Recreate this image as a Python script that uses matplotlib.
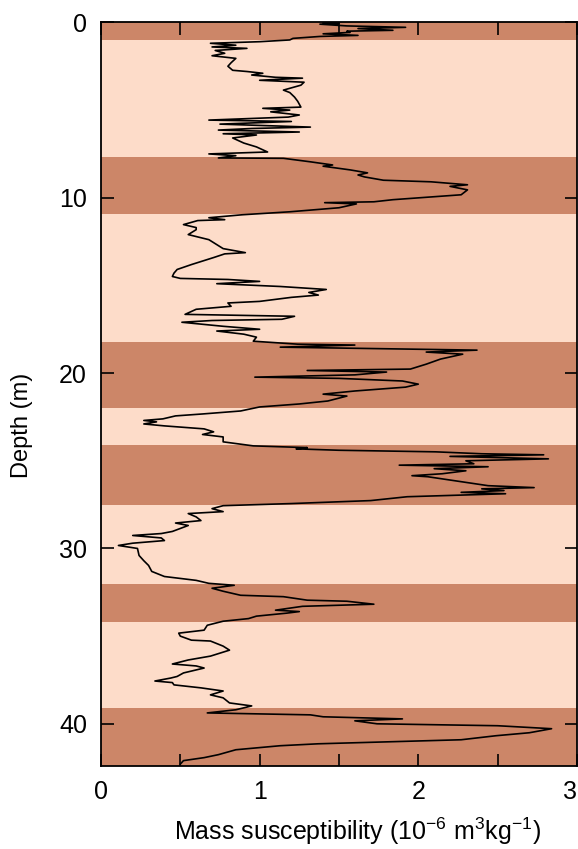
import matplotlib
matplotlib.use("Agg")
import matplotlib.pyplot as plt

plt.rcParams['font.family'] = ['Liberation Sans', 'DejaVu Sans']
plt.rcParams['mathtext.fontset'] = 'custom'
plt.rcParams['mathtext.rm'] = 'Liberation Sans'

# susceptibility profile
depth = [0.0, 0.06, 0.1, 0.2, 0.28, 0.35, 0.45, 0.5, 0.57, 0.65, 0.74, 0.8, 0.91, 1.0,
         1.1, 1.19, 1.3, 1.4, 1.48, 1.6, 1.76, 1.9, 2.05, 2.3, 2.5, 2.73, 2.8, 2.9, 3.0,
         3.13, 3.18, 3.3, 3.41, 3.58, 3.86, 4.0, 4.26, 4.5, 4.83, 4.9, 5.0, 5.1, 5.28,
         5.4, 5.57, 5.65, 5.8, 5.97, 6.05, 6.14, 6.25, 6.35, 6.42, 6.59, 6.88, 7.1, 7.39,
         7.5, 7.6, 7.73, 7.75, 7.95, 8.13, 8.2, 8.41, 8.58, 8.7, 8.81, 9.0, 9.09, 9.26,
         9.35, 9.55, 9.83, 10.0, 10.11, 10.23, 10.28, 10.35, 10.57, 10.8, 10.97, 11.14,
         11.25, 11.3, 11.53, 11.7, 11.82, 12.1, 12.39, 12.67, 12.9, 13.13, 13.2, 13.41,
         13.81, 14.09, 14.3, 14.49, 14.6, 14.66, 14.77, 14.9, 15.06, 15.23, 15.4, 15.55,
         15.68, 15.91, 16.0, 16.19, 16.36, 16.65, 16.76, 16.93, 17.0, 17.1, 17.33, 17.5,
         17.6, 17.78, 17.95, 18.18, 18.35, 18.4, 18.52, 18.69, 18.8, 18.92, 19.2, 19.49,
         19.77, 19.85, 19.94, 20.1, 20.23, 20.3, 20.45, 20.63, 20.8, 21.02, 21.2, 21.31,
         21.59, 21.76, 21.93, 22.16, 22.33, 22.44, 22.61, 22.7, 22.78, 22.9, 23.01, 23.18,
         23.35, 23.5, 23.64, 23.92, 24.15, 24.25, 24.32, 24.4, 24.49, 24.6, 24.66, 24.75,
         24.89, 25.0, 25.17, 25.25, 25.34, 25.45, 25.57, 25.74, 25.85, 25.91, 26.19, 26.42,
         26.53, 26.6, 26.7, 26.8, 26.88, 27.05, 27.27, 27.44, 27.56, 27.73, 27.9, 28.01,
         28.2, 28.41, 28.55, 28.69, 29.03, 29.15, 29.26, 29.4, 29.55, 29.7, 29.83, 30.0,
         30.4, 30.7, 30.97, 31.31, 31.6, 31.82, 31.99, 32.1, 32.27, 32.44, 32.67, 32.75,
         32.95, 33.01, 33.18, 33.3, 33.52, 33.6, 33.69, 33.86, 34.0, 34.15, 34.38, 34.66,
         34.83, 35.0, 35.23, 35.28, 35.57, 35.8, 36.14, 36.36, 36.59, 36.7, 36.82, 37.1,
         37.3, 37.39, 37.56, 37.65, 37.78, 37.95, 38.13, 38.35, 38.52, 38.81, 38.98, 39.2,
         39.38, 39.49, 39.6, 39.72, 39.83, 40.0, 40.11, 40.28, 40.51, 40.68, 40.91, 41.02,
         41.14, 41.25, 41.48, 41.76, 41.93, 42.1, 42.3]
chi = [1.40, 1.50, 1.38, 1.55, 1.92, 1.62, 1.84, 1.55, 1.57, 1.40, 1.62, 1.38, 1.21, 1.19,
       1.00, 0.69, 0.85, 0.70, 0.92, 0.72, 0.78, 0.70, 0.85, 0.82, 0.80, 0.83, 0.92, 1.02, 0.95,
       1.10, 1.27, 1.00, 1.28, 1.26, 1.15, 1.19, 1.22, 1.24, 1.26, 1.02, 1.19, 1.07, 1.25,
       1.18, 0.68, 1.20, 0.75, 1.32, 0.95, 0.74, 1.25, 0.77, 0.98, 0.83, 0.90, 0.98, 1.05,
       0.68, 0.85, 0.74, 1.15, 1.32, 1.46, 1.40, 1.57, 1.68, 1.62, 1.66, 1.78, 2.08, 2.31,
       2.20, 2.31, 2.27, 2.01, 1.84, 1.72, 1.41, 1.61, 1.50, 1.19, 0.89, 0.68,
       0.78, 0.61, 0.52, 0.60, 0.60, 0.55, 0.68, 0.73, 0.77, 0.91, 0.78, 0.71,
       0.57, 0.48, 0.46, 0.45, 0.50, 0.80, 1.00, 0.73, 1.13, 1.42, 1.31, 1.37,
       1.20, 1.00, 0.80, 0.82, 0.60, 0.53, 1.22, 1.14, 0.70, 0.51, 0.77, 1.00,
       0.73, 0.90, 0.98, 0.96, 1.24, 1.60, 1.13, 2.37, 2.05, 2.28, 2.14, 2.05,
       1.95, 1.30, 1.80, 1.60, 0.97, 1.50, 1.90, 2.00, 1.92, 1.60, 1.40, 1.55,
       1.43, 1.25, 1.00, 0.88, 0.64, 0.47, 0.39, 0.27, 0.35, 0.27, 0.40, 0.65,
       0.71, 0.64, 0.77, 0.77, 0.96, 1.30, 1.23, 1.50, 2.11, 2.40, 2.79, 2.20,
       2.82, 2.30, 2.35, 1.88, 2.44, 2.10, 2.30, 2.15, 1.96, 2.06, 2.27, 2.44,
       2.73, 2.40, 2.54, 2.27, 2.55, 1.93, 1.70, 1.20, 0.77, 0.70, 0.77, 0.55,
       0.60, 0.63, 0.47, 0.55, 0.45, 0.38, 0.20, 0.38, 0.40, 0.20, 0.11, 0.23,
       0.24, 0.27, 0.30, 0.32, 0.40, 0.60, 0.68, 0.84, 0.70, 0.77, 0.88, 1.15,
       1.30, 1.55, 1.72, 1.27, 1.10, 1.25, 1.17, 0.98, 0.93, 0.77, 0.67, 0.65,
       0.49, 0.50, 0.57, 0.69, 0.77, 0.81, 0.69, 0.55, 0.45, 0.60, 0.65, 0.52,
       0.48, 0.44, 0.34, 0.45, 0.46, 0.63, 0.77, 0.69, 0.77, 0.81, 0.95, 0.85,
       0.67, 1.32, 1.40, 1.90, 1.60, 1.74, 2.50, 2.84, 2.70, 2.49, 2.27, 1.84,
       1.37, 1.13, 0.85, 0.74, 0.65, 0.52, 0.50]

# darker layers (top, bottom) in m
band_top = [0.0, 7.7, 18.25, 24.1, 32.0, 39.1]
band_bottom = [1.0, 10.9, 22.0, 27.5, 34.2, 42.4]

fig = plt.figure(figsize=(5.78, 8.49), dpi=100)
ax = fig.add_axes([0.1747, 0.0979, 0.8235, 0.8757])
ax.set_facecolor('#fddcc9')

for top, bot in zip(band_top, band_bottom):
    ax.axhspan(top, bot, color='#cc8668', lw=0, zorder=0)

ax.plot(chi, depth, color='black', lw=1.2, zorder=2)

ax.set_xlim(0, 3)
ax.set_ylim(42.4, 0)
ax.set_xticks([0, 1, 2, 3])
ax.set_xticks([0.5, 1.5, 2.5], minor=True)
ax.set_yticks([0, 10, 20, 30, 40])
ax.tick_params(which='both', direction='in', length=9, width=1.2,
               top=True, right=True, labelsize=18, pad=10)
# last x label would run off the right edge
ax.get_xticklabels()[-1].set_horizontalalignment('right')
for s in ax.spines.values():
    s.set_linewidth(1.3)

fig.text(357 / 578, 1 - 831 / 849,
         r'Mass susceptibility (10$^{-6}$ m$^{3}$kg$^{-1}$)',
         ha='center', va='center', fontsize=18)
fig.text(22 / 578, 1 - 425 / 849, 'Depth (m)', rotation=90,
         ha='center', va='center', fontsize=17)

fig.savefig('out.png', dpi=100)
